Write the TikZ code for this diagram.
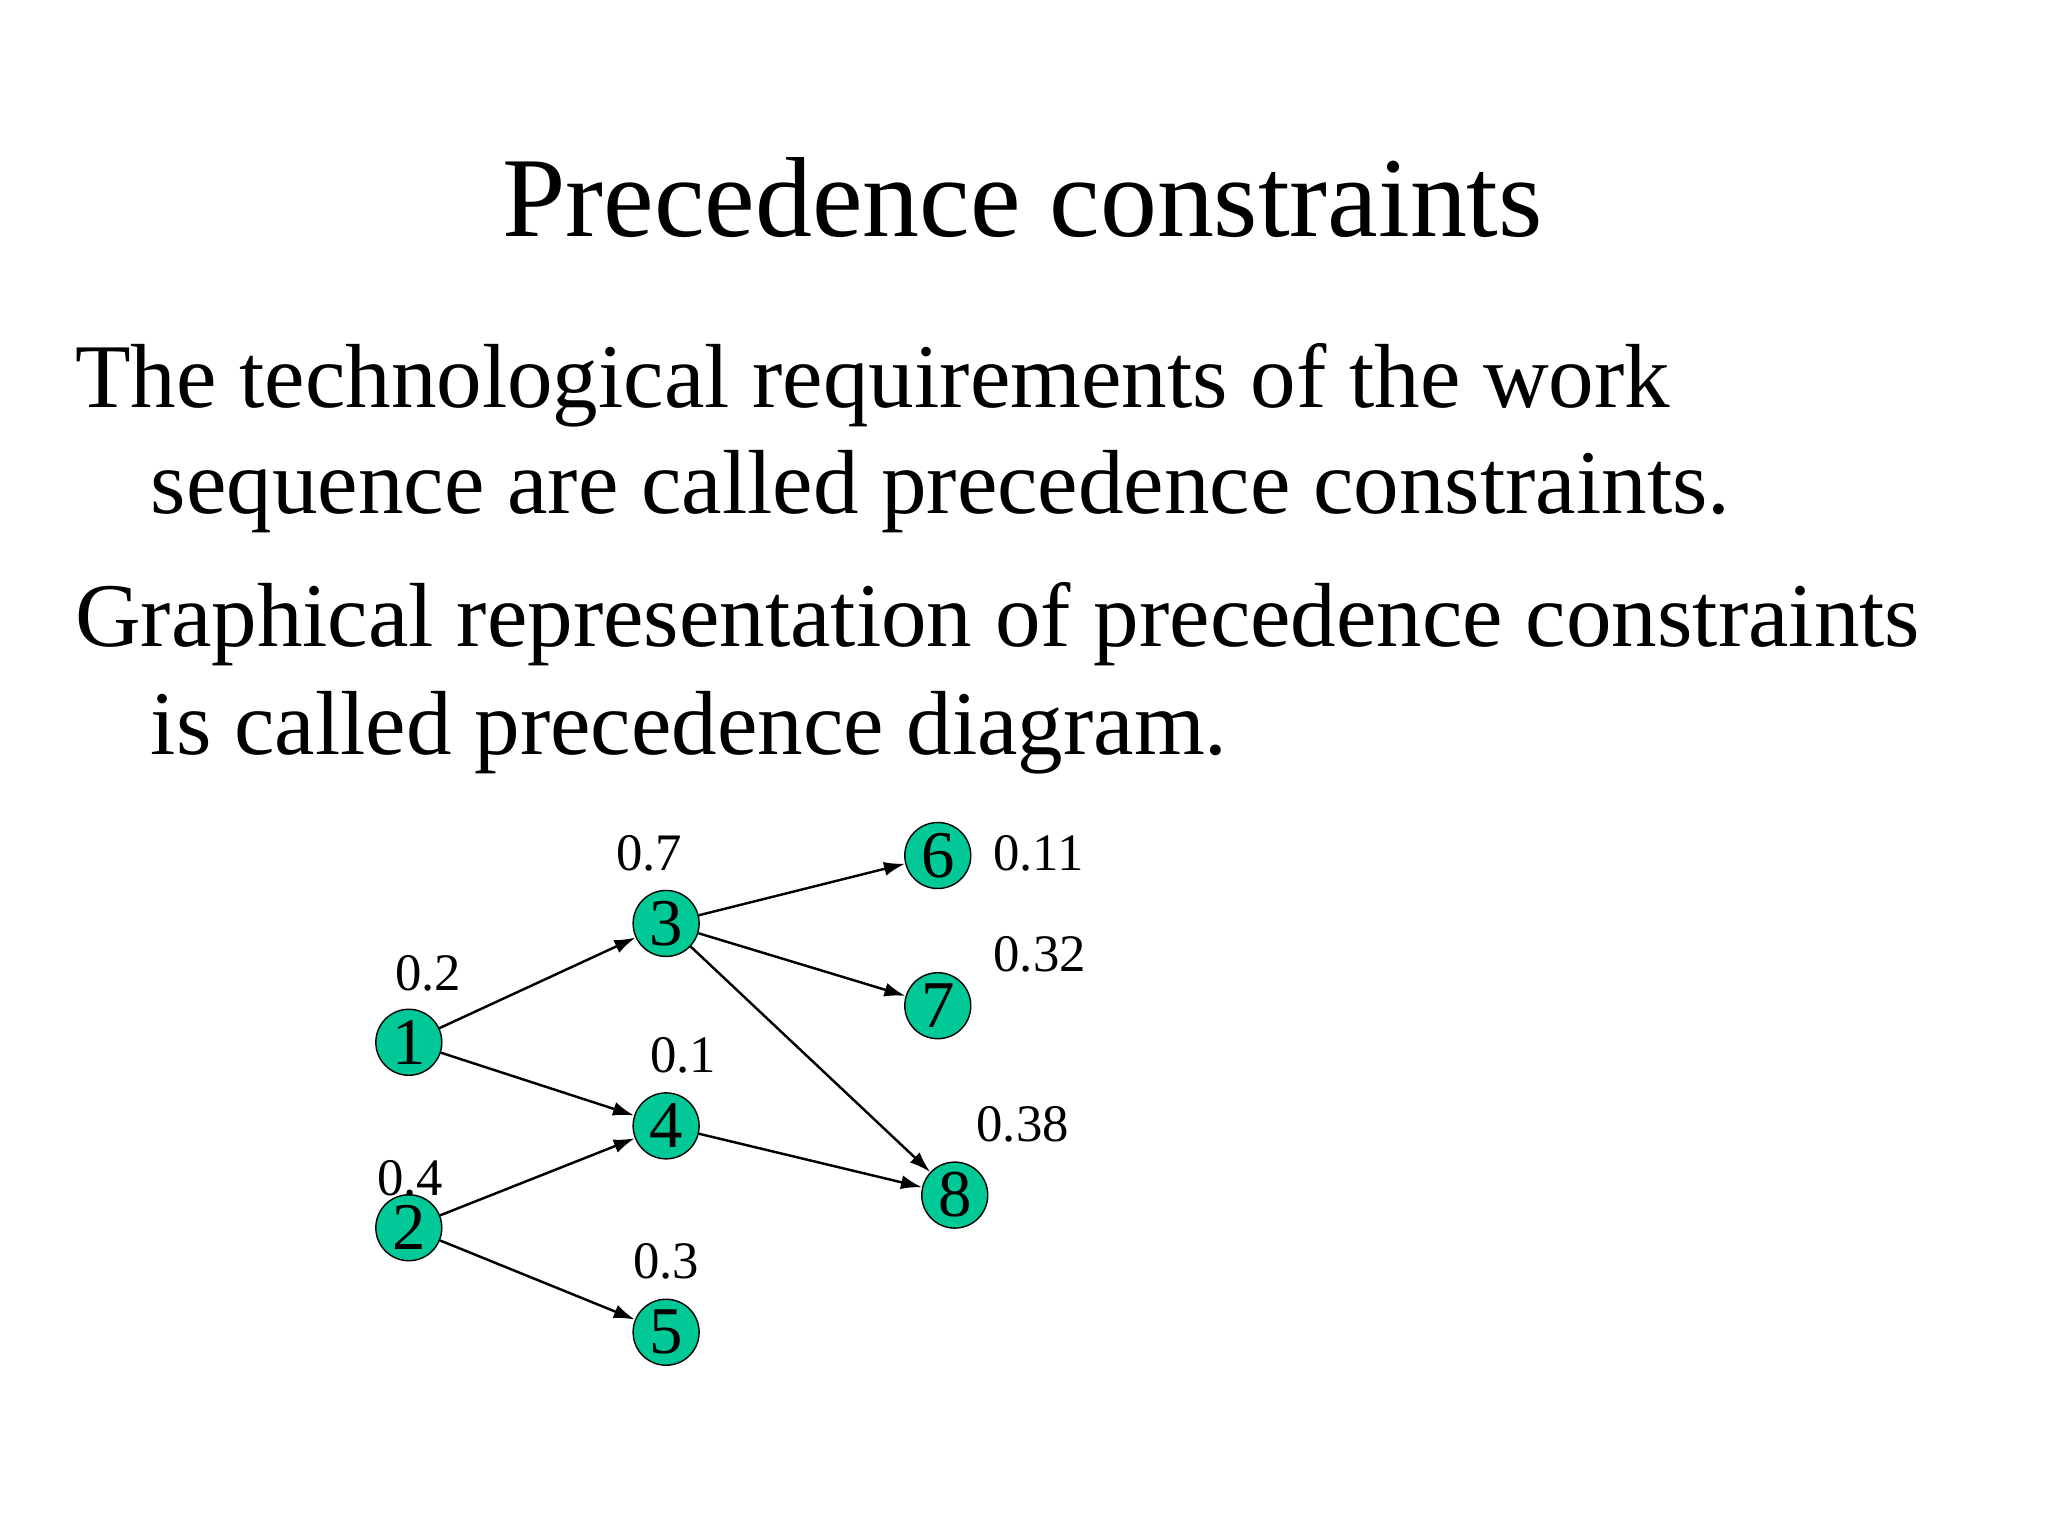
\documentclass[tikz,border=0pt]{standalone}
\usepackage{fontspec}
\setmainfont{Liberation Serif}
\usetikzlibrary{arrows.meta}
\begin{document}
\begin{tikzpicture}[x=0.01306cm,y=-0.01306cm,
  task/.style={circle,draw=black,fill={rgb,255:red,0;green,200;blue,150},minimum size=0.66cm,inner sep=0pt,font=\fontsize{19pt}{19pt}\selectfont},
  lab/.style={font=\fontsize{15pt}{15pt}\selectfont},
  txt/.style={anchor=base west,inner sep=0pt,font=\fontsize{25.9pt}{25.9pt}\selectfont},
  arr/.style={-{Latex[length=6pt,width=4pt]},line width=0.7pt}]
\useasboundingbox (0,0) rectangle (1568,1176);
\node[anchor=base,inner sep=0pt,font=\fontsize{32.4pt}{32.4pt}\selectfont] (title) at (783,181) {Precedence constraints};
\node[txt] (l1) at (57,312) {The technological requirements of the work};
\node[txt] (l2) at (115,393) {sequence are called precedence constraints.};
\node[txt] (l3) at (57,495) {Graphical representation of precedence constraints};
\node[txt] (l4) at (115,578) {is called precedence diagram.};
\node[task] (n1) at (313,798) {1};
\node[task] (n2) at (313,940) {2};
\node[task] (n3) at (510,707) {3};
\node[task] (n4) at (510,862) {4};
\node[task] (n5) at (510,1020) {5};
\node[task] (n6) at (718,655) {6};
\node[task] (n7) at (718,770) {7};
\node[task] (n8) at (731,915) {8};
\node[lab] (w1) at (328,745) {0.2};
\node[lab] (w2) at (314,902) {0.4};
\node[lab] (w3) at (497,653) {0.7};
\node[lab] (w4) at (523,808) {0.1};
\node[lab] (w5) at (510,966) {0.3};
\node[lab] (w6) at (795,653) {0.11};
\node[lab] (w7) at (796,731) {0.32};
\node[lab] (w8) at (783,861) {0.38};
\draw[arr] (n1) -- (n3);
\draw[arr] (n1) -- (n4);
\draw[arr] (n2) -- (n4);
\draw[arr] (n2) -- (n5);
\draw[arr] (n3) -- (n6);
\draw[arr] (n3) -- (n7);
\draw[arr] (n3) -- (n8);
\draw[arr] (n4) -- (n8);
\end{tikzpicture}
\end{document}
